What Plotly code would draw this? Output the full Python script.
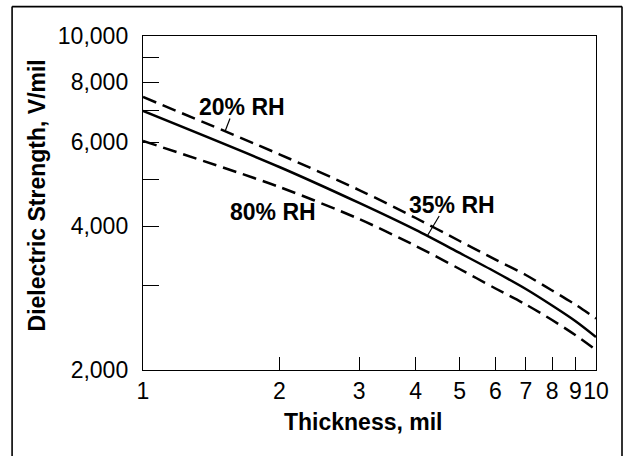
import numpy as np
import plotly.graph_objects as go

# ---- data ----
thickness = [1, 2, 3, 4, 5, 6, 7, 8, 9, 10]              # mil
rh20 = [7454, 5655, 4761, 4160, 3724, 3406, 3161, 2934, 2742, 2563]  # V/mil
rh35 = [6967, 5319, 4473, 3927, 3515, 3207, 2955, 2729, 2533, 2345]
rh80 = [6030, 4831, 4140, 3636, 3254, 2962, 2742, 2545, 2367, 2202]

y_tickvals = [2000, 3000, 4000, 5000, 6000, 7000, 8000, 9000, 10000]
y_ticktext = ["2,000", "", "4,000", "", "6,000", "", "8,000", "", "10,000"]
x_tickvals = [1, 2, 3, 4, 5, 6, 7, 8, 9, 10]
x_ticktext = ["1", "2", "3", "4", "5", "6", "7", "8", "9", "10"]

series_names = ["20% RH", "35% RH", "80% RH"]
label_text_x = [1.654, 4.81, 1.936]
label_text_y = [7100, 4430, 4280]
leader_x = [1.517, 4.24, 2.08]
leader_dx = [5, 12, -7]
leader_dy = [13, 20, -15]

FONT = "Liberation Sans, Arial, Helvetica, sans-serif"
FS = 23

fig = go.Figure()
series = [rh20, rh35, rh80]
dashes = ["14px,7px", "solid", "14px,7px"]
for name, vals, d in zip(series_names, series, dashes):
    fig.add_trace(go.Scatter(
        x=thickness, y=vals, mode="lines", name=name,
        line=dict(color="black", width=2.5, dash=d, shape="spline", smoothing=0.8),
        showlegend=False, hoverinfo="skip"))

lx = np.log10(thickness)
annotations = []
shapes = []
for i, name in enumerate(series_names):
    annotations.append(dict(
        x=np.log10(label_text_x[i]), y=np.log10(label_text_y[i]), xref="x", yref="y",
        text=name, showarrow=False, xanchor="center", yanchor="middle",
        font=dict(family=FONT, size=FS, color="black", weight="bold")))
    hy = 10 ** np.interp(np.log10(leader_x[i]), lx, np.log10(series[i]))
    shapes.append(dict(
        type="line", xref="x", yref="y", xsizemode="pixel", ysizemode="pixel",
        xanchor=leader_x[i], yanchor=hy, x0=0, y0=0,
        x1=leader_dx[i], y1=leader_dy[i],
        line=dict(color="black", width=1.2)))

# axis titles
annotations.append(dict(
    x=0.4857, y=-0.1557, xref="paper", yref="paper", text="Thickness, mil",
    showarrow=False, xanchor="center", yanchor="middle",
    font=dict(family=FONT, size=FS, color="black", weight="bold")))
annotations.append(dict(
    x=-0.2351, y=0.524, xref="paper", yref="paper", text="Dielectric Strength, V/mil",
    showarrow=False, xanchor="center", yanchor="middle", textangle=-90,
    font=dict(family=FONT, size=FS, color="black", weight="bold")))

# outer frame (drawn as three edges; bottom runs off the picture)
frame_x0, frame_x1, frame_y0, frame_y1 = -0.289, 1.0574, -0.3, 1.088
for (a0, b0, a1, b1) in [(frame_x0, frame_y1, frame_x1, frame_y1),
                         (frame_x0, frame_y0, frame_x0, frame_y1),
                         (frame_x1, frame_y0, frame_x1, frame_y1)]:
    shapes.append(dict(type="line", xref="paper", yref="paper",
                       x0=a0, y0=b0, x1=a1, y1=b1,
                       line=dict(color="black", width=1.6), layer="above"))

fig.update_layout(
    width=629, height=456,
    margin=dict(l=143, r=33, t=36, b=86),
    paper_bgcolor="white", plot_bgcolor="white",
    font=dict(family=FONT, size=FS, color="black"),
    annotations=annotations, shapes=shapes,
    xaxis=dict(type="log", range=[0, 1], tickvals=x_tickvals, ticktext=x_ticktext,
               ticks="inside", ticklen=13, tickwidth=1.2, tickcolor="black",
               showline=True, linecolor="black", linewidth=1.4, mirror=True,
               showgrid=False, zeroline=False, ticklabelstandoff=0, tickangle=0,
               tickfont=dict(family=FONT, size=FS, color="black")),
    yaxis=dict(type="log", range=[np.log10(2000), 4], tickvals=y_tickvals, ticktext=y_ticktext,
               ticks="inside", ticklen=16, tickwidth=1.2, tickcolor="black",
               showline=True, linecolor="black", linewidth=1.4, mirror=True,
               showgrid=False, zeroline=False, ticklabelstandoff=9,
               tickfont=dict(family=FONT, size=FS, color="black")),
)

fig.write_html("out.html", config=dict(displayModeBar=False),
               post_script="document.body.style.margin='0';document.body.style.overflow='hidden';")
